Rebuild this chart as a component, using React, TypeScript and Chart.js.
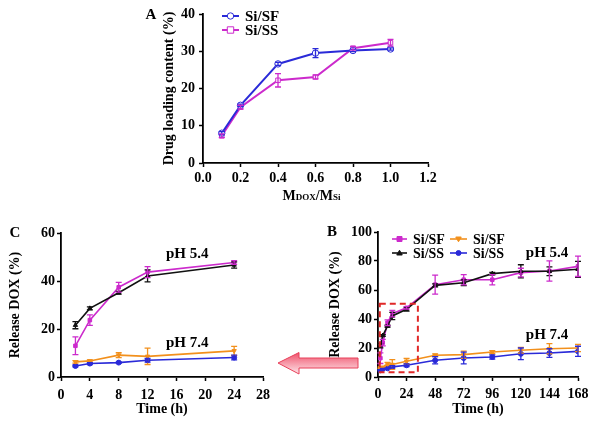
import React, { useEffect, useRef } from "react";
import { Chart, registerables } from "chart.js";
Chart.register(...registerables);

const FONT = '"Liberation Serif", "Times New Roman", serif';

// ---------- Panel A: drug loading ----------
const ratioA = [0.1, 0.2, 0.4, 0.6, 0.8, 1.0];
const loadSF = [8.0, 15.5, 26.6, 29.5, 30.2, 30.6];
const loadSFErr = [0.4, 0.3, 0.4, 1.2, 0.3, 0.3];
const loadSS = [7.3, 15.0, 22.2, 23.1, 30.8, 32.3];
const loadSSErr = [0.5, 0.5, 1.8, 0.5, 0.5, 0.9];

// ---------- Panel C: release 0-24 h ----------
const timeC = [2, 4, 8, 12, 24];
const cSF54 = [13.0, 23.7, 37.4, 43.7, 47.7];
const cSF54Err = [3.7, 2.2, 2.0, 2.3, 0.8];
const cSS54 = [21.6, 28.6, 35.1, 42.1, 46.7];
const cSS54Err = [1.5, 0.6, 0.6, 2.5, 1.3];
const cSF74 = [6.3, 6.7, 9.1, 8.6, 10.9];
const cSF74Err = [0.5, 0.4, 1.0, 3.4, 1.9];
const cSS74 = [4.6, 5.6, 6.0, 7.0, 8.1];
const cSS74Err = [0.4, 0.4, 0.3, 0.8, 1.0];

// ---------- Panel B: release 0-168 h ----------
const timeB = [2, 4, 8, 12, 24, 48, 72, 96, 120, 144, 168];
const bSF54 = [13.0, 23.7, 37.4, 43.7, 47.7, 63.7, 67.1, 67.1, 72.0, 73.1, 76.3];
const bSF54Err = [3.7, 2.2, 2.0, 2.3, 0.8, 6.5, 3.5, 3.5, 3.0, 7.0, 7.0];
const bSS54 = [21.6, 28.6, 35.1, 42.1, 46.7, 63.2, 65.0, 71.3, 72.9, 72.9, 74.3];
const bSS54Err = [1.5, 0.6, 0.6, 2.5, 1.3, 1.0, 2.0, 0.8, 4.5, 3.0, 5.5];
const bSF74 = [6.3, 6.7, 9.1, 8.6, 10.9, 15.0, 15.4, 17.2, 18.4, 19.5, 20.0];
const bSF74Err = [0.5, 0.4, 1.0, 3.4, 1.9, 1.0, 2.5, 1.0, 2.0, 3.5, 2.5];
const bSS74 = [4.6, 5.6, 6.0, 7.0, 8.1, 11.5, 13.1, 13.8, 16.0, 16.5, 17.7];
const bSS74Err = [0.4, 0.4, 0.3, 0.8, 1.0, 2.5, 4.0, 1.5, 4.0, 3.0, 3.5];

// zoom box (data units of panel B)
const zoomBoxX = [1.5, 33.5];
const zoomBoxY = [3.2, 50.5];

const BLUE = "#2a2ad8";
const MAGENTA = "#cc2acc";
const ORANGE = "#f2901c";
const BLACK = "#111111";
const RED = "#e02828";

const tickFont = { family: FONT, size: 14, weight: "bold" as const };
const titleFont = { family: FONT, size: 14, weight: "bold" as const };

function makeAxis(min: number, max: number, step: number, fit: number, o: any) {
  return {
    type: "linear",
    min,
    max,
    ticks: {
      stepSize: step,
      color: "#000",
      font: tickFont,
      padding: o.tickPad ?? 3,
      autoSkip: false,
      maxRotation: 0,
      callback: o.cb,
    },
    grid: {
      display: true,
      drawOnChartArea: false,
      drawTicks: true,
      tickLength: 4,
      tickWidth: 1.5,
      tickColor: "#000",
      color: "#000",
    },
    border: { display: true, color: "#000", width: 1.8 },
    title: o.title
      ? { display: true, text: o.title, color: "#000", font: titleFont, padding: o.titlePad }
      : { display: false },
    afterFit: (s: any) => {
      if (s.isHorizontal()) s.height = fit;
      else s.width = fit;
    },
  };
}

function pts(xs: number[], ys: number[]) {
  return xs.map((x, i) => ({ x, y: ys[i] }));
}

function series(xs: number[], ys: number[], errs: number[], color: string, style: string, opts: any = {}) {
  return {
    data: pts(xs, ys),
    errors: errs,
    borderColor: color,
    backgroundColor: color,
    borderWidth: opts.lw ?? 1.6,
    pointStyle: style,
    pointRadius: opts.r ?? 2.5,
    pointBorderWidth: opts.pbw ?? 1,
    pointBackgroundColor: opts.open ? "#fff" : color,
    pointBorderColor: color,
    pointRotation: opts.rot ?? 0,
    tension: 0,
  };
}

const errorBarPlugin = {
  id: "errorBars",
  afterDatasetsDraw(chart: any) {
    const ctx = chart.ctx;
    const ys = chart.scales.y;
    chart.data.datasets.forEach((ds: any, i: number) => {
      if (!ds.errors) return;
      const meta = chart.getDatasetMeta(i);
      ctx.save();
      ctx.strokeStyle = ds.borderColor;
      ctx.lineWidth = 1.3;
      meta.data.forEach((el: any, j: number) => {
        const e = ds.errors[j];
        if (!e) return;
        const v = ds.data[j].y;
        const x = el.x;
        const t = ys.getPixelForValue(v + e);
        const b = ys.getPixelForValue(v - e);
        ctx.beginPath();
        ctx.moveTo(x, t);
        ctx.lineTo(x, b);
        ctx.moveTo(x - 3, t);
        ctx.lineTo(x + 3, t);
        ctx.moveTo(x - 3, b);
        ctx.lineTo(x + 3, b);
        ctx.stroke();
      });
      ctx.restore();
    });
  },
};

function drawMarker(ctx: CanvasRenderingContext2D, style: string, x: number, y: number, r: number, color: string, open: boolean, rot = 0) {
  ctx.save();
  ctx.fillStyle = open ? "#fff" : color;
  ctx.strokeStyle = color;
  ctx.lineWidth = 1;
  ctx.beginPath();
  if (style === "circle") {
    ctx.arc(x, y, r, 0, Math.PI * 2);
  } else if (style === "rect") {
    ctx.rect(x - r, y - r, 2 * r, 2 * r);
  } else {
    const s = rot ? -1 : 1;
    ctx.moveTo(x, y - s * r * 1.1);
    ctx.lineTo(x + r * 1.1, y + s * r * 0.8);
    ctx.lineTo(x - r * 1.1, y + s * r * 0.8);
    ctx.closePath();
  }
  ctx.fill();
  ctx.stroke();
  ctx.restore();
}

function legendItem(ctx: CanvasRenderingContext2D, x1: number, x2: number, y: number, ds: any, text: string, size: number) {
  ctx.save();
  ctx.strokeStyle = ds.borderColor;
  ctx.lineWidth = ds.borderWidth;
  ctx.beginPath();
  ctx.moveTo(x1, y);
  ctx.lineTo(x2, y);
  ctx.stroke();
  drawMarker(ctx, ds.pointStyle, (x1 + x2) / 2, y, ds.pointRadius, ds.borderColor, ds.pointBackgroundColor === "#fff", ds.pointRotation);
  ctx.fillStyle = "#000";
  ctx.font = `bold ${size}px ${FONT}`;
  ctx.textAlign = "left";
  ctx.textBaseline = "middle";
  ctx.fillText(text, x2 + 6, y + 1);
  ctx.restore();
}

function label(ctx: CanvasRenderingContext2D, text: string, x: number, y: number, size: number, align: CanvasTextAlign = "center") {
  ctx.save();
  ctx.fillStyle = "#000";
  ctx.font = `bold ${size}px ${FONT}`;
  ctx.textAlign = align;
  ctx.textBaseline = "middle";
  ctx.fillText(text, x, y);
  ctx.restore();
}

function baseOptions(padding: any, scales: any) {
  return {
    animation: false,
    responsive: false,
    maintainAspectRatio: false,
    devicePixelRatio: 1,
    layout: { padding },
    plugins: { legend: { display: false }, tooltip: { enabled: false } },
    scales,
  };
}

export default function App() {
  const refA = useRef<HTMLCanvasElement>(null);
  const refB = useRef<HTMLCanvasElement>(null);
  const refC = useRef<HTMLCanvasElement>(null);

  useEffect(() => {
    const charts: Chart[] = [];

    // ---- Panel A ----
    const dsA = [
      series(ratioA, loadSF, loadSFErr, BLUE, "circle", { lw: 2, r: 3.2, open: true }),
      series(ratioA, loadSS, loadSSErr, MAGENTA, "rect", { lw: 2, r: 3.2, open: true }),
    ];
    const annotA = {
      id: "annotA",
      afterDraw(chart: any) {
        const ctx = chart.ctx;
        const a = chart.chartArea;
        const ds = chart.data.datasets;
        legendItem(ctx, a.left + 19, a.left + 36, a.top + 2, ds[0], "Si/SF", 15);
        legendItem(ctx, a.left + 19, a.left + 36, a.top + 16, ds[1], "Si/SS", 15);
        label(ctx, "A", a.left - 52, a.top + 1, 15);
        // x-axis title M_DOX / M_Si
        const parts: [string, number][] = [["M", 14], ["DOX", 9], ["/M", 14], ["Si", 9]];
        ctx.save();
        ctx.fillStyle = "#000";
        ctx.textBaseline = "alphabetic";
        ctx.textAlign = "left";
        let total = 0;
        for (const [t, s] of parts) {
          ctx.font = `bold ${s}px ${FONT}`;
          total += ctx.measureText(t).width;
        }
        let x = (a.left + a.right) / 2 - total / 2 - 4;
        const by = a.bottom + 37;
        for (const [t, s] of parts) {
          ctx.font = `bold ${s}px ${FONT}`;
          ctx.fillText(t, x, by);
          x += ctx.measureText(t).width;
        }
        ctx.restore();
      },
    };
    charts.push(
      new Chart(refA.current!, {
        type: "line",
        data: { datasets: dsA as any },
        options: baseOptions({ top: 14, right: 22, left: 0, bottom: 0 }, {
          x: makeAxis(0, 1.2, 0.2, 47, { tickPad: 3, cb: (v: any) => Number(v).toFixed(1) }),
          y: makeAxis(0, 40, 10, 63, { tickPad: 4, title: "Drug loading content (%)", titlePad: { top: 21, bottom: 0 } }),
        }) as any,
        plugins: [errorBarPlugin, annotA],
      })
    );

    // ---- Panel C ----
    const dsC = [
      series(timeC, cSF74, cSF74Err, ORANGE, "triangle", { rot: 180 }),
      series(timeC, cSS74, cSS74Err, BLUE, "circle"),
      series(timeC, cSS54, cSS54Err, BLACK, "triangle"),
      series(timeC, cSF54, cSF54Err, MAGENTA, "rect"),
    ];
    const annotC = {
      id: "annotC",
      afterDraw(chart: any) {
        const ctx = chart.ctx;
        const a = chart.chartArea;
        const xs = chart.scales.x;
        const ys = chart.scales.y;
        label(ctx, "C", a.left - 46, a.top, 15);
        label(ctx, "pH 5.4", xs.getPixelForValue(17.5), ys.getPixelForValue(51), 15);
        label(ctx, "pH 7.4", xs.getPixelForValue(17.5), ys.getPixelForValue(14.2), 15);
      },
    };
    charts.push(
      new Chart(refC.current!, {
        type: "line",
        data: { datasets: dsC as any },
        options: baseOptions({ top: 18, right: 27, left: 0, bottom: 0 }, {
          x: makeAxis(0, 28, 4, 51, { tickPad: 6, title: "Time (h)", titlePad: { top: 0, bottom: 10 } }),
          y: makeAxis(0, 60, 20, 61, { tickPad: 2, title: "Release DOX (%)", titlePad: { top: 7, bottom: 0 } }),
        }) as any,
        plugins: [errorBarPlugin, annotC],
      })
    );

    // ---- Panel B ----
    const dsB = [
      series(timeB, bSF74, bSF74Err, ORANGE, "triangle", { rot: 180 }),
      series(timeB, bSS74, bSS74Err, BLUE, "circle"),
      series(timeB, bSS54, bSS54Err, BLACK, "triangle"),
      series(timeB, bSF54, bSF54Err, MAGENTA, "rect"),
    ];
    const annotB = {
      id: "annotB",
      afterDraw(chart: any) {
        const ctx = chart.ctx;
        const a = chart.chartArea;
        const xs = chart.scales.x;
        const ys = chart.scales.y;
        const ds = chart.data.datasets;
        // zoom box
        ctx.save();
        ctx.strokeStyle = RED;
        ctx.lineWidth = 2;
        ctx.setLineDash([6, 4]);
        const x1 = xs.getPixelForValue(zoomBoxX[0]);
        const x2 = xs.getPixelForValue(zoomBoxX[1]);
        const y1 = ys.getPixelForValue(zoomBoxY[1]);
        const y2 = ys.getPixelForValue(zoomBoxY[0]);
        ctx.strokeRect(x1, y1, x2 - x1, y2 - y1);
        ctx.restore();
        legendItem(ctx, a.left + 14, a.left + 29, a.top + 7, ds[3], "Si/SF", 14);
        legendItem(ctx, a.left + 14, a.left + 29, a.top + 21, ds[2], "Si/SS", 14);
        legendItem(ctx, a.left + 72, a.left + 89, a.top + 7, ds[0], "Si/SF", 14);
        legendItem(ctx, a.left + 72, a.left + 89, a.top + 21, ds[1], "Si/SS", 14);
        label(ctx, "B", a.left - 46, a.top, 15);
        label(ctx, "pH 5.4", xs.getPixelForValue(142), ys.getPixelForValue(85.5), 15);
        label(ctx, "pH 7.4", xs.getPixelForValue(142), ys.getPixelForValue(29), 15);
      },
    };
    charts.push(
      new Chart(refB.current!, {
        type: "line",
        data: { datasets: dsB as any },
        options: baseOptions({ top: 17, right: 26, left: 0, bottom: 0 }, {
          x: makeAxis(0, 168, 24, 51, { tickPad: 5, title: "Time (h)", titlePad: { top: 0, bottom: 10 } }),
          y: makeAxis(0, 100, 20, 78, { tickPad: 2, title: "Release DOX (%)", titlePad: { top: 27, bottom: 0 } }),
        }) as any,
        plugins: [errorBarPlugin, annotB],
      })
    );

    return () => charts.forEach((c) => c.destroy());
  }, []);

  const cv = (left: number, top: number): React.CSSProperties => ({ position: "absolute", left, top });

  return (
    <div style={{ position: "absolute", left: 0, top: 0, width: 604, height: 428, background: "#fff", overflow: "hidden" }}>
      <canvas ref={refA} width={310} height={210} style={cv(140, 0)} />
      <canvas ref={refC} width={290} height={213} style={cv(0, 215)} />
      <canvas ref={refB} width={304} height={213} style={cv(300, 215)} />
      <svg width={604} height={428} style={{ position: "absolute", left: 0, top: 0, pointerEvents: "none" }}>
        <defs>
          <linearGradient id="arrowGrad" x1="0" y1="0" x2="0" y2="1">
            <stop offset="0" stopColor="#f0506a" />
            <stop offset="1" stopColor="#fde6ea" />
          </linearGradient>
        </defs>
        <polygon
          points="278,363 299,352.5 299,358 358,358 358,368 299,368 299,374"
          fill="url(#arrowGrad)"
          stroke="#e8405a"
          strokeWidth={1}
        />
      </svg>
    </div>
  );
}
